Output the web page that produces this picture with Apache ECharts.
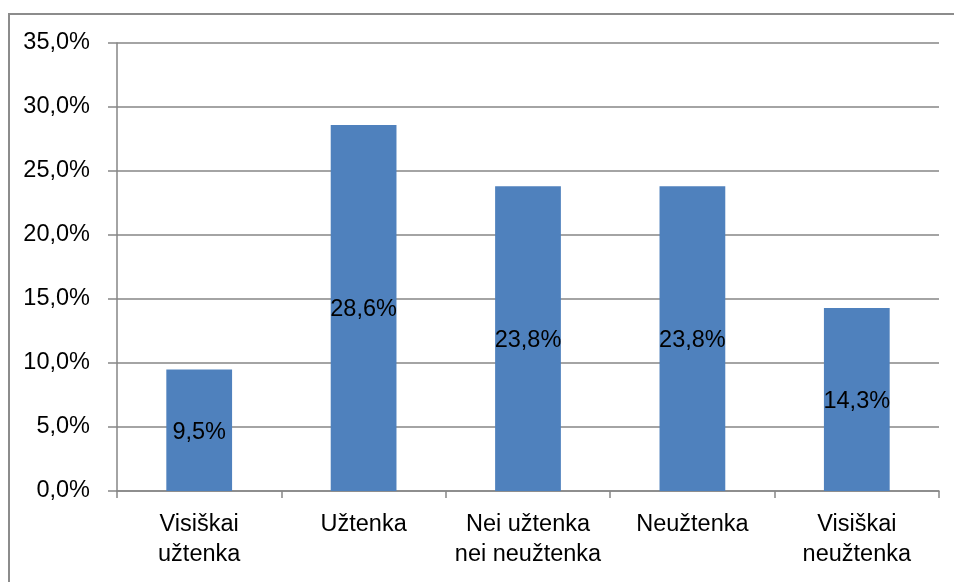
<!DOCTYPE html>
<html>
<head>
<meta charset="utf-8">
<script src="https://cdn.jsdelivr.net/npm/echarts@6/dist/echarts.min.js"></script>
<style>html,body{margin:0;padding:0;background:#fff}#c{width:954px;height:582px}</style>
</head>
<body>
<div id="c"></div>
<script>
const categories = ['Visiškai\nužtenka', 'Užtenka', 'Nei užtenka\nnei neužtenka', 'Neužtenka', 'Visiškai\nneužtenka'];
const values = [9.5, 28.6, 23.8, 23.8, 14.3];
const yTicks = { min: 0, max: 35, interval: 5 };

const fmt = v => v.toFixed(1).replace('.', ',') + '%';
const font = 'Liberation Sans, Arial, sans-serif';
const chart = echarts.init(document.getElementById('c'));
chart.setOption({
  animation: false,
  backgroundColor: '#fff',
  graphic: [{
    type: 'rect', shape: { x: 9, y: 14, width: 980, height: 620 },
    style: { fill: 'none', stroke: '#8c8c8c', lineWidth: 2 }, silent: true
  }],
  grid: { left: 117, right: 15, top: 43, bottom: 91 },
  xAxis: {
    type: 'category', data: categories,
    axisLine: { lineStyle: { color: '#868686', width: 1.5 } },
    axisTick: { show: true, length: 7, lineStyle: { color: '#868686', width: 1.5 } },
    axisLabel: { color: '#000', fontFamily: font, fontSize: 23.5, lineHeight: 30, margin: 19, interval: 0 }
  },
  yAxis: {
    type: 'value', min: yTicks.min, max: yTicks.max, interval: yTicks.interval,
    axisLine: { show: true, lineStyle: { color: '#868686', width: 1.5 } },
    axisTick: { show: true, length: 9, lineStyle: { color: '#868686', width: 1.5 } },
    splitLine: { lineStyle: { color: '#868686', width: 1.5 } },
    axisLabel: { color: '#000', fontFamily: font, fontSize: 23.5, margin: 27, formatter: fmt }
  },
  series: [{
    type: 'bar', data: values, barWidth: '40%',
    itemStyle: { color: '#4F81BD' },
    label: { show: true, position: 'inside', offset: [0, 2], color: '#000', fontFamily: font, fontSize: 23.5,
      formatter: p => fmt(p.value) }
  }]
});
</script>
</body>
</html>
